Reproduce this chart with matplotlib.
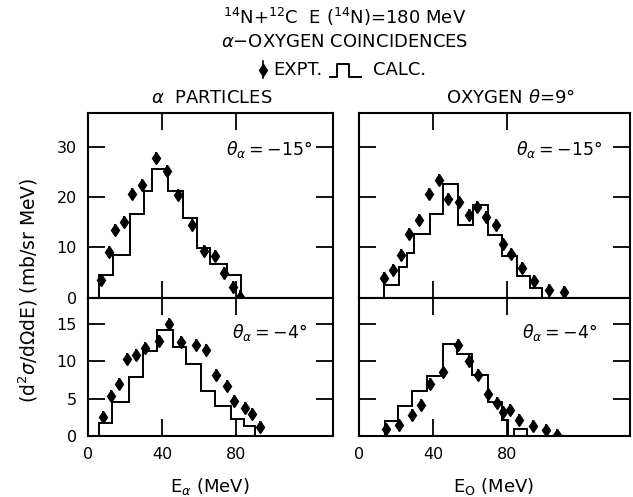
import matplotlib
matplotlib.use('Agg')
import matplotlib.pyplot as plt
from matplotlib.lines import Line2D

# alpha particles, theta_alpha = -15 deg
ea_15 = [6.9, 11.5, 14.6, 19.5, 24.0, 29.0, 37.0, 42.5, 48.6, 56.4, 62.7, 68.6, 73.5, 78.5, 82.2]
ya_15 = [3.5, 9.0, 13.4, 15.0, 20.7, 22.5, 27.9, 25.3, 20.4, 14.5, 9.3, 8.2, 4.9, 2.0, 0.2]
ca_15_edges = [6.1, 13.7, 22.7, 30.3, 34.4, 43.4, 51.5, 58.7, 65.9, 74.9, 82.7]
ca_15 = [4.4, 8.4, 16.7, 21.3, 25.7, 21.3, 15.8, 9.9, 6.7, 4.4]

# alpha particles, theta_alpha = -4 deg
ea_4 = [8.3, 12.4, 16.9, 21.1, 25.9, 30.6, 38.4, 44.0, 50.3, 58.2, 64.0, 69.2, 75.0, 78.9, 84.7, 88.6, 93.1]
ya_4 = [2.6, 5.4, 6.9, 10.3, 10.8, 11.7, 12.7, 14.9, 12.5, 12.2, 11.5, 8.1, 6.7, 4.7, 3.8, 3.0, 1.2]
ca_4_edges = [5.9, 13.2, 22.2, 29.9, 37.5, 45.8, 53.0, 60.9, 68.6, 77.1, 84.5, 90.3]
ca_4 = [1.8, 4.5, 7.9, 11.3, 14.1, 11.9, 9.6, 6.0, 4.0, 2.3, 1.4]

# oxygen, theta_alpha = -15 deg
eo_15 = [13.5, 18.2, 22.9, 27.2, 32.2, 38.1, 43.4, 48.3, 54.2, 59.3, 63.8, 68.5, 73.9, 78.0, 82.3, 87.9, 94.6, 102.5, 110.8]
yo_15 = [3.9, 5.5, 8.4, 12.7, 15.5, 20.7, 23.5, 19.7, 19.1, 16.5, 18.0, 16.0, 14.4, 10.7, 8.7, 5.8, 3.2, 1.4, 1.1]
co_15_edges = [13.5, 21.8, 25.8, 29.7, 38.4, 45.6, 53.7, 61.8, 69.9, 77.1, 85.2, 92.4, 98.8]
co_15 = [2.5, 6.1, 8.9, 12.7, 16.6, 22.7, 14.5, 18.4, 12.4, 8.2, 4.3, 1.9]

# oxygen, theta_alpha = -4 deg
eo_4 = [14.4, 21.6, 28.5, 33.5, 38.4, 45.6, 53.3, 59.5, 64.5, 69.6, 74.4, 77.7, 81.6, 86.5, 94.2, 100.9, 106.9]
yo_4 = [1.0, 1.5, 2.8, 4.1, 7.0, 8.6, 12.1, 10.0, 8.2, 5.6, 4.4, 3.2, 3.5, 2.2, 1.3, 0.8, 0.2]
co_4_edges = [14.0, 21.3, 28.5, 36.6, 45.2, 52.8, 61.0, 69.7, 77.3, 80.5, 84.0, 90.6]
co_4 = [2.0, 4.0, 6.0, 8.0, 12.3, 11.0, 8.1, 4.5, 2.2, 0.0, 1.0]

plt.rcParams['font.family'] = ['DejaVu Sans']
plt.rcParams['mathtext.fontset'] = 'dejavusans'

fig = plt.figure(figsize=(6.33, 4.97), dpi=100)

ax_tl = fig.add_axes([0.1390, 0.4014, 0.3870, 0.3712])
ax_bl = fig.add_axes([0.1390, 0.1227, 0.3870, 0.2787])
ax_tr = fig.add_axes([0.5671, 0.4014, 0.4281, 0.3712])
ax_br = fig.add_axes([0.5671, 0.1227, 0.4281, 0.2787])

panels = [
    (ax_tl, ea_15, ya_15, ca_15_edges, ca_15, 1.2, r'$\theta_\alpha = -15°$'),
    (ax_bl, ea_4, ya_4, ca_4_edges, ca_4, 0.8, r'$\theta_\alpha = -4°$'),
    (ax_tr, eo_15, yo_15, co_15_edges, co_15, 1.2, r'$\theta_\alpha = -15°$'),
    (ax_br, eo_4, yo_4, co_4_edges, co_4, 0.8, r'$\theta_\alpha = -4°$'),
]

for ax, x, y, edges, calc, err, lab in panels:
    ax.stairs(calc, edges, baseline=0, color='black', linewidth=1.4)
    ax.errorbar(x, y, yerr=err, fmt='d', color='black', markersize=6,
                elinewidth=1.3, capsize=0)
    for s in ax.spines.values():
        s.set_linewidth(1.5)
    ax.tick_params(direction='in', length=12, width=1.3, top=True, right=True,
                   labelsize=11.5, pad=8)
    ax.text(0.74, 0.80 if ax in (ax_tl, ax_tr) else 0.75, lab, transform=ax.transAxes,
            ha='center', va='center', fontsize=12.5)

for ax in (ax_tl, ax_bl):
    ax.set_xlim(0, 132.4)
for ax in (ax_tr, ax_br):
    ax.set_xlim(0, 146.5)
for ax in (ax_tl, ax_tr):
    ax.set_ylim(0, 36.8)
    ax.set_yticks([0, 10, 20, 30])
    ax.set_xticks([40, 80])
    ax.tick_params(labelbottom=False)
for ax in (ax_bl, ax_br):
    ax.set_ylim(0, 18.5)
    ax.set_yticks([0, 5, 10, 15])
    ax.set_xticks([0, 40, 80])
for ax in (ax_tr, ax_br):
    ax.tick_params(labelleft=False)

fs = 13
fig.text(0.545, 0.966, r'$^{14}$N+$^{12}$C  E ($^{14}$N)=180 MeV', ha='center', va='center', fontsize=fs)
fig.text(0.545, 0.915, r'$\alpha$$-$OXYGEN COINCIDENCES', ha='center', va='center', fontsize=fs)
fig.text(0.431, 0.859, 'EXPT.', ha='left', va='center', fontsize=fs)
fig.text(0.590, 0.859, 'CALC.', ha='left', va='center', fontsize=fs)
fig.text(0.335, 0.803, r'$\alpha$  PARTICLES', ha='center', va='center', fontsize=fs)
fig.text(0.806, 0.803, r'OXYGEN $\theta$=9°', ha='center', va='center', fontsize=fs)

# legend symbols
fig.add_artist(Line2D([0.416, 0.416], [0.843, 0.877], color='black', lw=1.2))
fig.add_artist(Line2D([0.416], [0.860], marker='d', color='black', markersize=6))
fig.add_artist(Line2D([0.521, 0.533, 0.533, 0.551, 0.551, 0.571],
                      [0.846, 0.846, 0.872, 0.872, 0.846, 0.846], color='black', lw=1.4))

fig.text(0.044, 0.416, r'(d$^2\sigma$/d$\Omega$dE) (mb/sr MeV)', rotation=90,
         ha='center', va='center', fontsize=13.5)
fig.text(0.332, 0.022, r'E$_\alpha$ (MeV)', ha='center', va='center', fontsize=fs)
fig.text(0.780, 0.022, r'E$_{\rm O}$ (MeV)', ha='center', va='center', fontsize=fs)

fig.savefig('out.png', dpi=100)
